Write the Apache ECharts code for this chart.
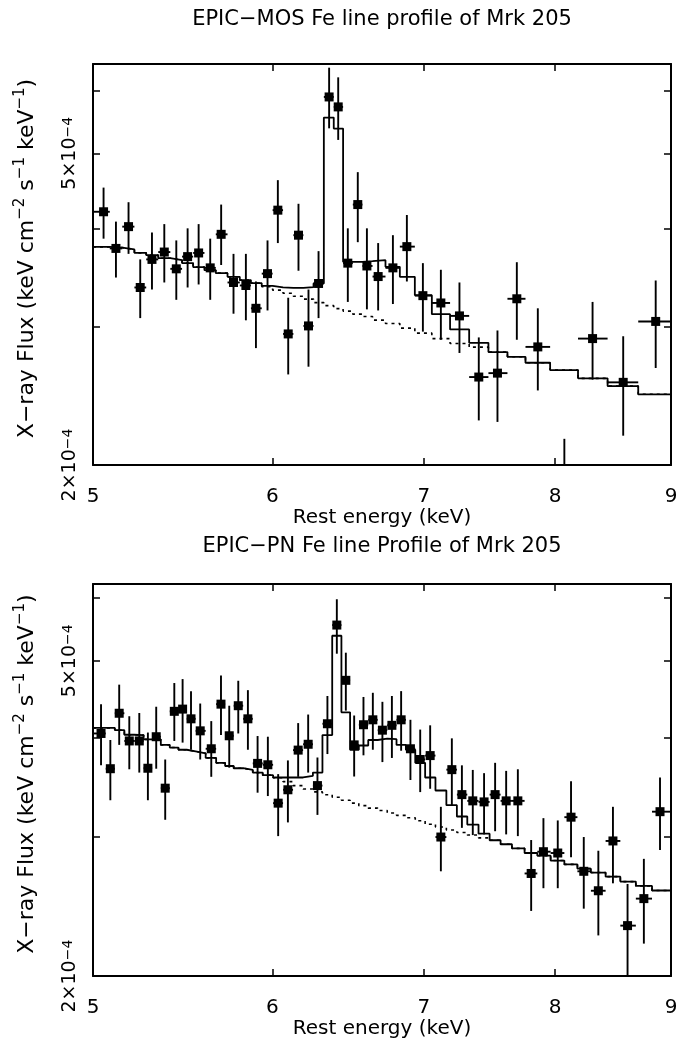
<!DOCTYPE html>
<html><head><meta charset="utf-8">
<script src="https://cdn.jsdelivr.net/npm/echarts@6/dist/echarts.min.js"></script>
<style>html,body{margin:0;padding:0;background:#fff;}#c{width:691px;height:1040px;}</style>
</head><body><div id="c"></div>
<script>
// ---------- EPIC-MOS (top panel) ----------  flux in units of 1e-4
const mosTitle = 'EPIC\u2212MOS Fe line profile of Mrk 205';
const mosE = [5.054,5.118,5.184,5.246,5.309,5.376,5.442,5.505,5.567,5.633,5.696,5.768,5.841,5.901,5.971,6.034,6.098,6.162,6.225,6.289,6.357,6.416,6.479,6.545,6.606,6.682,6.783,6.880,6.993,7.122,7.258,7.402,7.544,7.694,7.860,8.075,8.310,8.573,8.861];
const mosF = [4.21,3.78,4.03,3.37,3.66,3.74,3.56,3.69,3.73,3.57,3.94,3.42,3.39,3.17,3.51,4.23,2.94,3.93,3.01,3.41,5.90,5.73,3.62,4.30,3.59,3.48,3.57,3.80,3.29,3.22,3.10,2.59,2.62,3.26,2.83,1.75,2.90,2.55,3.05];
const mosHi = [4.52,4.09,4.33,3.66,3.96,4.06,3.87,4.01,4.06,3.89,4.30,3.72,3.72,3.43,3.87,4.62,3.27,4.31,3.35,3.75,6.43,6.25,4.01,4.73,4.01,3.84,3.93,4.17,3.62,3.55,3.42,2.91,2.97,3.63,3.17,2.16,3.23,2.92,3.44];
const mosLo = [3.89,3.47,3.72,3.08,3.35,3.42,3.25,3.37,3.40,3.25,3.60,3.12,3.06,2.82,3.15,3.84,2.61,3.54,2.67,3.08,5.38,5.20,3.23,3.85,3.16,3.15,3.21,3.43,2.96,2.89,2.78,2.28,2.27,2.89,2.49,1.40,2.57,2.18,2.66];
const mosEdges = [5.000,5.086,5.151,5.215,5.278,5.343,5.409,5.474,5.536,5.600,5.665,5.733,5.805,5.871,5.936,6.002,6.066,6.130,6.193,6.257,6.323,6.387,6.448,6.512,6.576,6.644,6.732,6.831,6.936,7.057,7.189,7.330,7.475,7.621,7.762,7.959,8.188,8.438,8.705,9.000];
const mosModel = [3.797,3.789,3.769,3.731,3.706,3.673,3.652,3.620,3.578,3.546,3.515,3.477,3.444,3.413,3.386,3.371,3.367,3.367,3.374,3.410,5.553,5.377,3.634,3.634,3.641,3.652,3.581,3.477,3.295,3.116,2.979,2.864,2.787,2.749,2.701,2.644,2.580,2.522,2.462];
const mosCont = [3.797,3.789,3.769,3.731,3.706,3.673,3.652,3.620,3.578,3.546,3.515,3.477,3.444,3.413,3.379,3.344,3.314,3.285,3.257,3.223,3.195,3.167,3.144,3.116,3.094,3.062,3.031,2.991,2.947,2.900,2.858,2.828,2.787,2.749,2.701,2.644,2.580,2.522,2.462];
const mosYMax = 6.5;

// ---------- EPIC-PN (bottom panel) ----------
const pnTitle = 'EPIC\u2212PN Fe line Profile of Mrk 205';
const pnE = [5.041,5.089,5.135,5.188,5.241,5.287,5.332,5.381,5.431,5.477,5.524,5.576,5.639,5.695,5.743,5.796,5.853,5.911,5.973,6.036,6.096,6.160,6.223,6.282,6.346,6.407,6.466,6.521,6.583,6.646,6.711,6.776,6.840,6.905,6.974,7.045,7.122,7.202,7.276,7.357,7.442,7.526,7.611,7.702,7.807,7.905,8.021,8.130,8.236,8.359,8.484,8.611,8.755,8.900];
const pnF = [4.048,3.654,4.293,3.961,3.961,3.659,4.010,3.453,4.317,4.345,4.224,4.079,3.872,4.408,4.021,4.388,4.224,3.711,3.696,3.306,3.437,3.857,3.923,3.479,4.164,5.547,4.724,3.916,4.152,4.212,4.087,4.145,4.212,3.872,3.753,3.796,2.996,3.644,3.389,3.328,3.318,3.389,3.328,3.328,2.695,2.871,2.860,3.174,2.712,2.563,2.962,2.316,2.505,3.225];
const pnHi = [4.408,3.972,4.665,4.256,4.296,4.059,4.375,3.753,4.687,4.741,4.578,4.416,4.196,4.791,4.388,4.718,4.591,4.018,4.010,3.597,3.743,4.172,4.277,3.775,4.514,5.979,5.119,4.265,4.501,4.556,4.438,4.514,4.578,4.212,4.094,4.145,3.271,3.991,3.690,3.641,3.607,3.717,3.631,3.648,2.970,3.165,3.144,3.522,2.996,2.879,3.271,2.614,2.812,3.562];
const pnLo = [3.690,3.334,3.916,3.648,3.613,3.334,3.654,3.150,3.961,3.942,3.861,3.753,3.569,4.029,3.665,4.048,3.861,3.408,3.375,3.004,3.126,3.569,3.613,3.195,3.813,5.104,4.326,3.572,3.799,3.861,3.725,3.770,3.850,3.536,3.414,3.447,2.712,3.287,3.077,3.013,3.019,3.047,3.019,3.004,2.417,2.582,2.582,2.825,2.433,2.251,2.619,1.950,2.198,2.885];
const pnEdges = [5.000,5.065,5.112,5.162,5.214,5.264,5.310,5.357,5.406,5.454,5.500,5.550,5.607,5.667,5.719,5.769,5.825,5.882,5.942,6.005,6.066,6.128,6.191,6.253,6.314,6.377,6.437,6.494,6.552,6.615,6.679,6.744,6.808,6.873,6.939,7.009,7.083,7.162,7.239,7.316,7.400,7.484,7.568,7.656,7.755,7.856,7.963,8.075,8.183,8.296,8.421,8.548,8.684,8.828,9.000];
const pnModel = [4.114,4.114,4.087,4.033,4.029,3.979,3.979,3.916,3.886,3.861,3.843,3.821,3.770,3.717,3.683,3.659,3.641,3.613,3.586,3.562,3.562,3.562,3.579,3.613,4.029,5.377,4.305,3.861,3.909,3.972,3.987,3.981,3.916,3.861,3.717,3.562,3.430,3.287,3.180,3.106,3.025,2.968,2.934,2.899,2.860,2.838,2.798,2.767,2.733,2.702,2.670,2.632,2.599,2.565];
const pnCont = [4.114,4.114,4.087,4.033,4.029,3.979,3.979,3.916,3.886,3.861,3.843,3.821,3.770,3.717,3.683,3.659,3.641,3.613,3.586,3.559,3.519,3.479,3.445,3.416,3.387,3.363,3.334,3.306,3.282,3.259,3.236,3.213,3.191,3.168,3.141,3.110,3.084,3.058,3.036,3.014,2.989,2.968,2.934,2.899,2.860,2.838,2.798,2.767,2.733,2.702,2.670,2.632,2.599,2.565];
const pnYMax = 6.25;

// ---------- axis ticks / labels ----------
const xTicks = [5,6,7,8,9];
const yTicks = [2,3,4,5,6];
const yLabels = [2,5];
const xName = 'Rest energy (keV)';
const yName = 'X\u2212ray Flux (keV cm{s|\u22122} s{s|\u22121} keV{s|\u22121})';

const FONT = 'DejaVu Sans';
const panels = [
  {title: mosTitle, E: mosE, F: mosF, Hi: mosHi, Lo: mosLo, edges: mosEdges, model: mosModel, cont: mosCont, ymax: mosYMax, top: 64, titleY: 20},
  {title: pnTitle, E: pnE, F: pnF, Hi: pnHi, Lo: pnLo, edges: pnEdges, model: pnModel, cont: pnCont, ymax: pnYMax, top: 584, titleY: 547}
];

const grids = [], xAxes = [], yAxes = [], series = [], graphics = [];
panels.forEach((p, k) => {
  grids.push({left: 93, right: 20, top: p.top, height: 401, show: false});
  const axLine = {show: true, onZero: false, lineStyle: {color: '#000', width: 2}};
  const tick = (vals) => ({show: true, inside: true, length: 7, customValues: vals, lineStyle: {color: '#000', width: 1.5}});
  xAxes.push({type: 'log', logBase: 10, gridIndex: k, min: 5, max: 9, position: 'bottom',
    axisLine: axLine, axisTick: tick(xTicks), splitLine: {show: false}, minorTick: {show: false},
    axisLabel: {customValues: xTicks, color: '#000', fontFamily: FONT, fontSize: 20, margin: 22, formatter: v => String(Math.round(v))},
    name: xName, nameLocation: 'middle', nameGap: 40, nameTextStyle: {color: '#000', fontFamily: FONT, fontSize: 20}});
  xAxes.push({type: 'log', logBase: 10, gridIndex: k, min: 5, max: 9, position: 'top',
    axisLine: axLine, axisTick: tick(xTicks), splitLine: {show: false}, axisLabel: {show: false}});
  yAxes.push({type: 'log', logBase: 10, gridIndex: k, min: 2, max: p.ymax, position: 'left',
    axisLine: axLine, axisTick: tick(yTicks), splitLine: {show: false}, minorTick: {show: false},
    axisLabel: {customValues: yLabels, rotate: 90, color: '#000', fontFamily: FONT, fontSize: 19, margin: 13,
      formatter: v => '{m|' + Math.round(v) + '\u00d710}{s|\u22124}',
      rich: {m: {fontSize: 19, fontFamily: FONT, color: '#000'}, s: {fontSize: 14, fontFamily: FONT, color: '#000', verticalAlign: 'top', lineHeight: 12}}},
    name: yName, nameLocation: 'middle', nameRotate: 90, nameGap: 52,
    nameTextStyle: {color: '#000', fontFamily: FONT, fontSize: 22, lineHeight: 28, padding: [0, 0, 0, 12],
      rich: {s: {fontSize: 15, fontFamily: FONT, color: '#000', verticalAlign: 'top', lineHeight: 13}}}});
  yAxes.push({type: 'log', logBase: 10, gridIndex: k, min: 2, max: p.ymax, position: 'right',
    axisLine: axLine, axisTick: tick(yTicks), splitLine: {show: false}, axisLabel: {show: false}});

  const stepData = (vals) => {
    const d = vals.map((v, i) => [p.edges[i], v]);
    d.push([p.edges[vals.length], vals[vals.length - 1]]);
    return d;
  };
  series.push({type: 'line', xAxisIndex: 2 * k, yAxisIndex: 2 * k, step: 'end', symbol: 'none', z: 2,
    data: stepData(p.cont), lineStyle: {color: '#000', width: 1.6, type: [3, 4]}, silent: true, animation: false});
  series.push({type: 'line', xAxisIndex: 2 * k, yAxisIndex: 2 * k, step: 'end', symbol: 'none', z: 3,
    data: stepData(p.model), lineStyle: {color: '#000', width: 1.8}, silent: true, animation: false});

  const pts = p.E.map((e, i) => [e, p.F[i], p.Hi[i], p.Lo[i], p.edges[i], p.edges[i + 1]]);
  series.push({type: 'custom', xAxisIndex: 2 * k, yAxisIndex: 2 * k, clip: true, z: 4, animation: false,
    data: pts,
    renderItem: (params, api) => {
      const c = api.coord([api.value(0), api.value(1)]);
      const t = api.coord([api.value(0), api.value(2)]);
      const b = api.coord([api.value(0), api.value(3)]);
      const l = api.coord([api.value(4), api.value(1)]);
      const r = api.coord([api.value(5), api.value(1)]);
      const st = {stroke: '#000', lineWidth: 1.9};
      const s = 9;
      return {type: 'group', children: [
        {type: 'line', shape: {x1: c[0], y1: t[1], x2: c[0], y2: b[1]}, style: st},
        {type: 'line', shape: {x1: l[0], y1: c[1], x2: r[0], y2: c[1]}, style: st},
        {type: 'rect', shape: {x: c[0] - s / 2, y: c[1] - s / 2, width: s, height: s}, style: {fill: '#000'}}
      ]};
    }});

  graphics.push({type: 'text', x: 382, y: p.titleY, style: {text: p.title, fill: '#000', font: '21px "' + FONT + '"', textAlign: 'center', textVerticalAlign: 'middle'}});
});

const chart = echarts.init(document.getElementById('c'), null, {renderer: 'canvas'});
chart.setOption({animation: false, grid: grids, xAxis: xAxes, yAxis: yAxes, series: series, graphic: graphics});
</script></body></html>
